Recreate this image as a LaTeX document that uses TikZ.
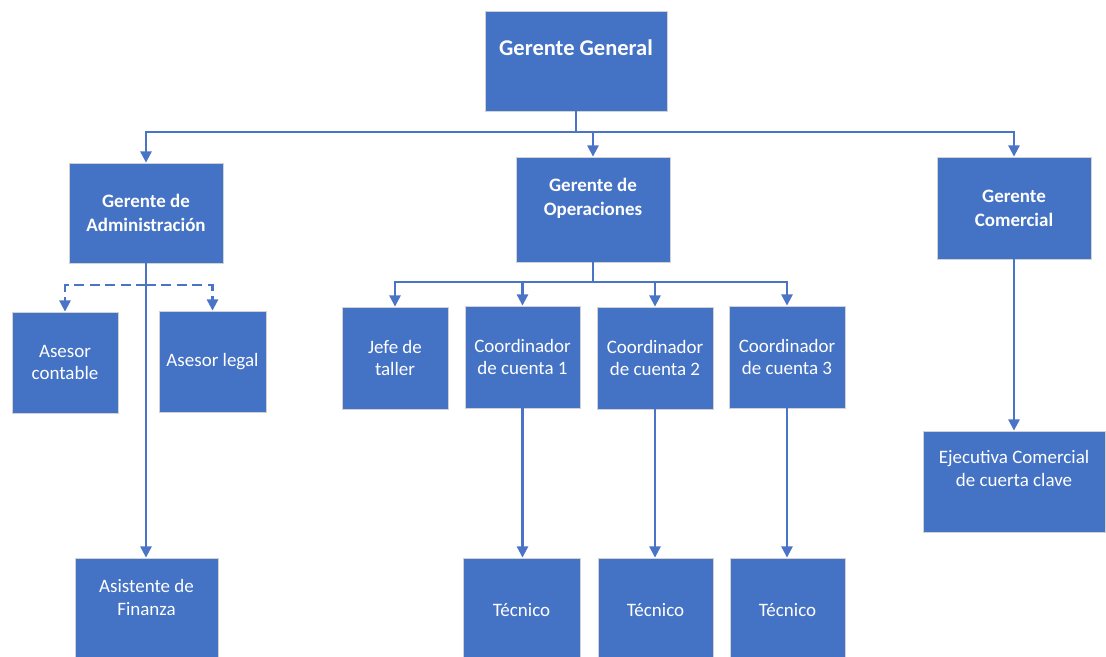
\documentclass[tikz,border=0pt]{standalone}
\usepackage{fontspec}
\setmainfont{Carlito}
\usetikzlibrary{arrows.meta}
\definecolor{orgblue}{HTML}{4472C4}
\definecolor{orgline}{HTML}{4A75C6}
\tikzset{
  box/.style={draw=gray!35, line width=0.6pt, fill=orgblue, text=white, align=center,
    inner sep=2pt, font=\fontsize{13.5}{16.3}\selectfont},
  boss/.style={box, font=\bfseries\fontsize{13.5}{17}\selectfont},
  raised/.style={text depth=18.5pt},
  link/.style={draw=orgline, line width=1.5pt, -{Triangle[length=8pt,width=8pt]}},
  dashlink/.style={link, dash pattern=on 7pt off 4pt}
}
\begin{document}
\begin{tikzpicture}[x=0.025cm, y=-0.025cm]
  \useasboundingbox[fill=white] (0,0) rectangle (1106,657);
  \node[boss, raised, minimum width=4.55cm, minimum height=2.5cm, font=\bfseries\fontsize{16}{19}\selectfont] (gg) at (576,61) {Gerente General};
  \node[boss, minimum width=3.85cm, minimum height=2.5cm] (ga) at (146,213) {Gerente de\\Administración};
  \node[boss, raised, minimum width=3.85cm, minimum height=2.625cm] (go) at (593,209.5) {Gerente de\\Operaciones};
  \node[boss, minimum width=3.85cm, minimum height=2.55cm] (gc) at (1014,208) {Gerente\\Comercial};
  \node[box, minimum width=2.65cm, minimum height=2.525cm] (ac) at (65,362.5) {Asesor\\contable};
  \node[box, minimum width=2.675cm, minimum height=2.525cm] (al) at (212.5,361.5) {Asesor legal};
  \node[box, raised, minimum width=3.575cm, minimum height=2.6cm] (af) at (146.5,610) {Asistente de\\Finanza};
  \node[box, minimum width=2.65cm, minimum height=2.55cm] (jt) at (395,358) {Jefe de\\taller};
  \node[box, minimum width=2.875cm, minimum height=2.55cm] (c1) at (522.5,357) {Coordinador\\de cuenta 1};
  \node[box, minimum width=2.9cm, minimum height=2.55cm] (c2) at (655,358) {Coordinador\\de cuenta 2};
  \node[box, minimum width=2.9cm, minimum height=2.55cm] (c3) at (787,357) {Coordinador\\de cuenta 3};
  \node[box, minimum width=2.925cm, minimum height=2.6cm] (t1) at (521.5,610) {Técnico};
  \node[box, minimum width=2.875cm, minimum height=2.6cm] (t2) at (655.5,610) {Técnico};
  \node[box, minimum width=2.875cm, minimum height=2.6cm] (t3) at (787.5,610) {Técnico};
  \node[box, raised, minimum width=4.55cm, minimum height=2.525cm] (ej) at (1014,481.5) {Ejecutiva Comercial\\de cuerta clave};
  \path (gg.south) ++(0,21) coordinate (ggbus);
  \path (ga.south) ++(0,22) coordinate (gabus);
  \path (go.south) ++(0,20) coordinate (gobus);
  \draw[orgline, line width=1.5pt] (gg.south) -- (ggbus);
  \draw[link] (ggbus) -| (ga.north);
  \draw[link] (ggbus) -| (go.north);
  \draw[link] (ggbus) -| (gc.north);
  \draw[dashlink] (gabus) -| (ac.north);
  \draw[dashlink] (gabus) -| (al.north);
  \draw[link] (ga.south) -- (ga.south |- af.north);
  \draw[orgline, line width=1.5pt] (go.south) -- (gobus);
  \draw[link] (gobus) -| (jt.north);
  \draw[link] (gobus) -| (c1.north);
  \draw[link] (gobus) -| (c2.north);
  \draw[link] (gobus) -| (c3.north);
  \draw[link] (c1.south) -- (c1.south |- t1.north);
  \draw[link] (c2.south) -- (c2.south |- t2.north);
  \draw[link] (c3.south) -- (c3.south |- t3.north);
  \draw[link] (gc.south) -- (gc.south |- ej.north);
\end{tikzpicture}
\end{document}
